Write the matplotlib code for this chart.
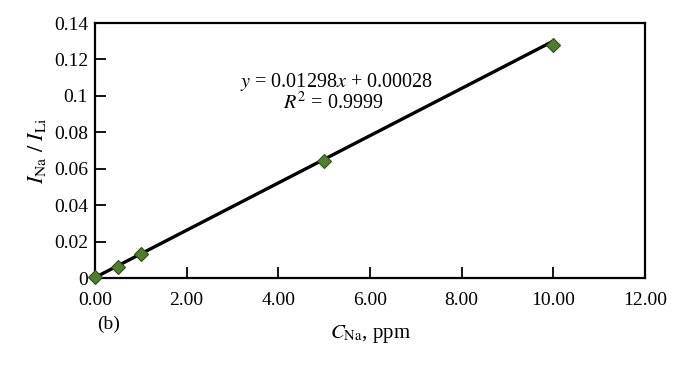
import matplotlib
matplotlib.use("Agg")
import matplotlib.pyplot as plt
import numpy as np

plt.rcParams['font.family'] = ['Liberation Serif', 'DejaVu Serif']
plt.rcParams['mathtext.fontset'] = 'stix'

conc = [0.0, 0.5, 1.0, 5.0, 10.0]
ratio = [0.0008, 0.0062, 0.0131, 0.0641, 0.1282]
slope = 0.01298
intercept = 0.00028
xticks = [0, 2, 4, 6, 8, 10, 12]
yticks = [0, 0.02, 0.04, 0.06, 0.08, 0.1, 0.12, 0.14]
yticklabels = ['0', '0.02', '0.04', '0.06', '0.08', '0.1', '0.12', '0.14']

fig = plt.figure(figsize=(6.87, 3.67), dpi=100)
ax = fig.add_axes([0.1383, 0.2425, 0.8006, 0.6948])

fx = np.array([conc[0], conc[-1]])
ax.plot(fx, slope * fx + intercept, color='black', lw=2.4, zorder=2)
ax.plot(conc, ratio, linestyle='none', marker='D', ms=7.5, mfc='#4f7f2e',
        mec='#2f4f1a', mew=0.8, zorder=3, clip_on=False)

ax.set_xlim(0, 12)
ax.set_ylim(0, 0.14)
ax.set_xticks(xticks)
ax.set_xticklabels([f'{v:.2f}' for v in xticks])
ax.set_yticks(yticks)
ax.set_yticklabels(yticklabels)
ax.tick_params(axis='both', direction='in', length=8, width=1.3, labelsize=14,
               top=False, right=False)
ax.tick_params(axis='x', pad=10)
ax.tick_params(axis='y', pad=5)
for s in ax.spines.values():
    s.set_linewidth(1.6)

ax.set_ylabel(r'$I_{\mathrm{Na}}\ /\ I_{\mathrm{Li}}$', fontsize=16, labelpad=4)
ax.set_xlabel(r'$C_{\mathrm{Na}}$, ppm', fontsize=15, labelpad=10)

ax.text(0.44, 0.769, r'$y$ = 0.01298$x$ + 0.00028', transform=ax.transAxes,
        ha='center', va='center', fontsize=14.5)
ax.text(0.433, 0.686, r'$R^2$ = 0.9999', transform=ax.transAxes,
        ha='center', va='center', fontsize=14.5)
fig.text(97 / 687, 1 - 324 / 367, '(b)', ha='left', va='center', fontsize=14)

fig.savefig('out.png', dpi=100)
